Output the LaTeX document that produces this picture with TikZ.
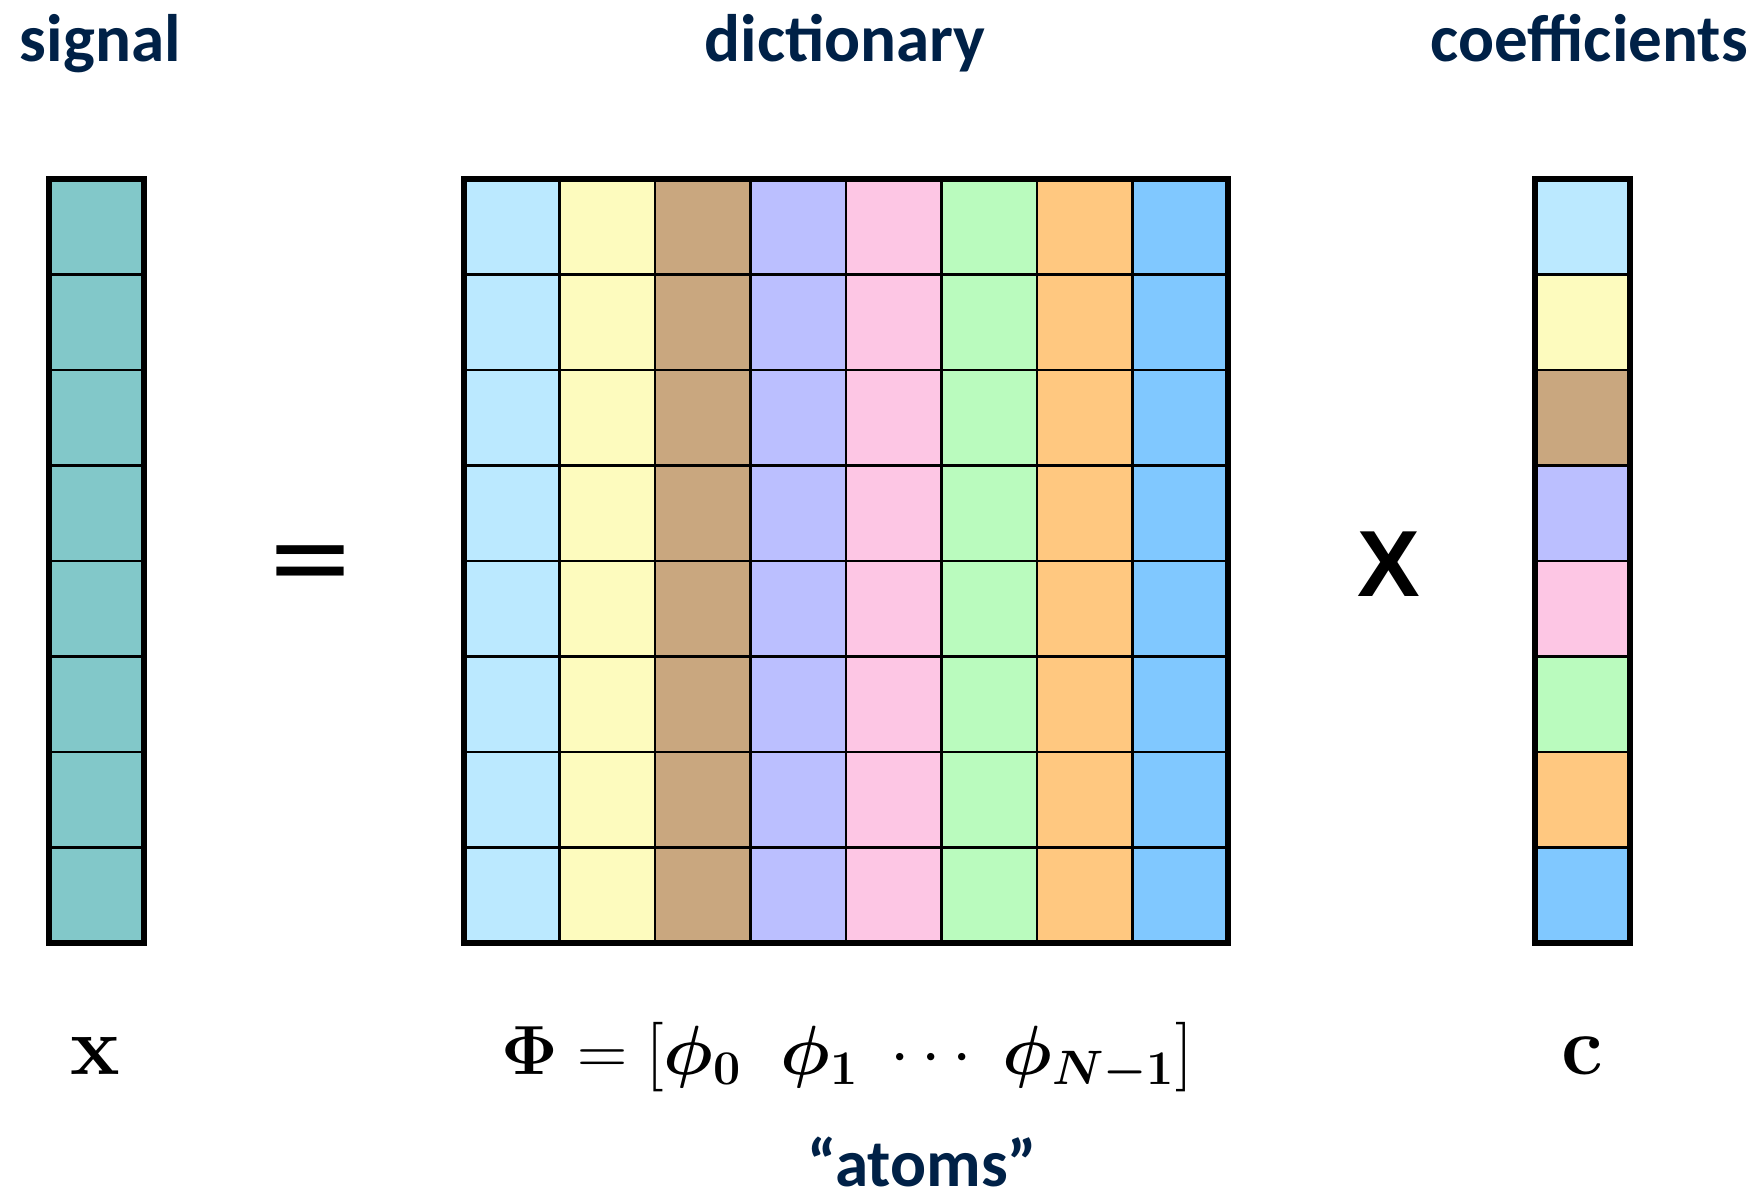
\documentclass[tikz,border=0pt]{standalone}
\usepackage{amsmath,amsbsy}
\usepackage[no-math]{fontspec}
\newfontfamily\headfont{Carlito}
\newfontfamily\opfont{Liberation Sans}
\newfontfamily\eqfont{DejaVu Sans}
\definecolor{navy}{RGB}{0,33,71}
\definecolor{sigcol}{RGB}{130,200,201}
\definecolor{atomA}{RGB}{187,233,255}
\definecolor{atomB}{RGB}{253,251,190}
\definecolor{atomC}{RGB}{201,167,127}
\definecolor{atomD}{RGB}{187,191,255}
\definecolor{atomE}{RGB}{253,198,228}
\definecolor{atomF}{RGB}{186,251,190}
\definecolor{atomG}{RGB}{255,200,128}
\definecolor{atomH}{RGB}{128,200,255}
\tikzset{
  head/.style={font=\headfont\bfseries\fontsize{20}{24}\selectfont, text=navy, anchor=base},
  mathlbl/.style={font=\fontsize{30}{36}\selectfont, anchor=base},
  cellline/.style={line width=0.7pt},
  frame/.style={line width=1.8pt}
}
\begin{document}
\begin{tikzpicture}
\useasboundingbox (0,-2.722) rectangle (18.471,9.875);
\foreach \col [count=\i from 0] in {atomA,atomB,atomC,atomD,atomE,atomF,atomG,atomH} {
  \fill[\col] (4.86+\i,0) rectangle ++(1,8);
  \fill[\col] (16.07,7-\i) rectangle ++(1,1);
}
\fill[sigcol] (0.51,0) rectangle (1.51,8);
\draw[cellline, xshift=0.51cm] (0,0) grid (1,8);
\draw[cellline, xshift=4.86cm] (0,0) grid (8,8);
\draw[cellline, xshift=16.07cm] (0,0) grid (1,8);
\draw[frame] (0.51,0) rectangle (1.51,8);
\draw[frame] (4.86,0) rectangle (12.86,8);
\draw[frame] (16.07,0) rectangle (17.07,8);
\node (signal) [head] at (1.05,9.226) {signal};
\node (dict) [head] at (8.85,9.226) {dictionary};
\node (coef) [head] at (16.64,9.226) {coefficients};
\node (eq) [font=\eqfont\fontsize{32}{36}\selectfont] at (3.25,3.90) {=};
\node (times) [font=\opfont\bfseries\fontsize{28}{32}\selectfont] at (14.54,3.97) {X};
\node (x) [mathlbl] at (1.0,-1.371) {$\mathbf{x}$};
\node (phi) [font=\fontsize{22.5}{27}\selectfont, anchor=base] at (8.87,-1.371)
  {$\boldsymbol{\Phi} = [\boldsymbol{\phi_0}\;\;\boldsymbol{\phi_1}\;\cdots\;\boldsymbol{\phi_{N-1}}]$};
\node (c) [mathlbl] at (16.57,-1.371) {$\mathbf{c}$};
\node (atoms) [head, inner sep=1pt] at (9.66,-2.55) {“atoms”};
\end{tikzpicture}
\end{document}
